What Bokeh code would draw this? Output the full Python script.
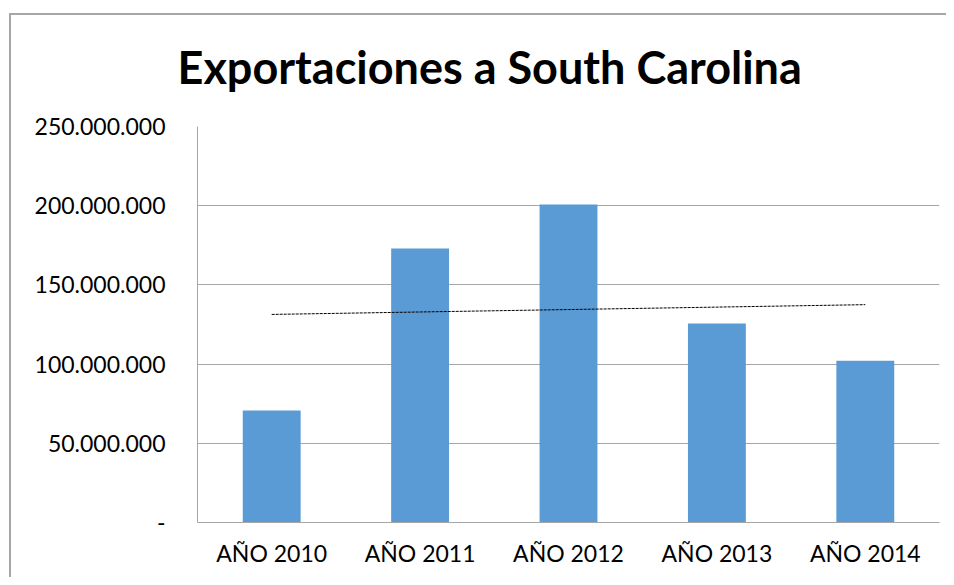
import numpy as np
from bokeh.plotting import figure
from bokeh.models import FixedTicker, FactorRange, Range1d
from bokeh.embed import file_html
from bokeh.resources import INLINE

title_text = "Exportaciones a South Carolina"
categories = ["AÑO 2010", "AÑO 2011", "AÑO 2012", "AÑO 2013", "AÑO 2014"]
exports = [70700000, 173000000, 200800000, 125600000, 102100000]
y_ticks = [0, 50000000, 100000000, 150000000, 200000000, 250000000]
y_tick_labels = ["-", "50.000.000", "100.000.000", "150.000.000", "200.000.000", "250.000.000"]

# linear trend line computed from the series
xs = np.arange(1, len(exports) + 1)
slope, intercept = np.polyfit(xs, exports, 1)
trend = list(slope * xs + intercept)

FONT = "Lato"
GRID = "#a6a6a6"

p = figure(
    x_range=FactorRange(*categories, range_padding=0),
    y_range=Range1d(0, 250000000),
    width=946, height=577,
    output_backend="svg", toolbar_location=None,
    min_border_left=197, min_border_right=7, min_border_top=126, min_border_bottom=55,
)
# outer chart-area border (top and left edges only visible in the window)
p.styles = {
    "overflow": "hidden",
    "background": ("linear-gradient(#a6a6a6,#a6a6a6) 9px 13px / 100% 2px no-repeat, "
                   "linear-gradient(#a6a6a6,#a6a6a6) 9px 13px / 2px 100% no-repeat, white"),
}
p.outline_line_color = None
p.background_fill_color = "white"
p.border_fill_alpha = 0

p.title.text = title_text
p.title.align = "left"
p.title.offset = -20
p.title.text_font = FONT
p.title.text_font_style = "bold"
p.title.text_font_size = "45px"
p.title.text_color = "black"
p.title.standoff = 66

p.vbar(x=categories, top=exports, width=0.39, color="#5b9bd5", line_color=None)
p.line(x=categories, y=trend, line_color="black", line_width=1, line_dash="3 1")

p.yaxis.ticker = FixedTicker(ticks=y_ticks)
p.yaxis.major_label_overrides = {t: l for t, l in zip(y_ticks, y_tick_labels)}
p.yaxis.major_tick_line_color = None
p.yaxis.minor_tick_line_color = None
p.yaxis.axis_line_color = GRID
p.yaxis.major_label_standoff = 26
p.yaxis.major_label_text_font = FONT
p.yaxis.major_label_text_font_size = "23px"
p.yaxis.major_label_text_color = "black"

p.xaxis.major_tick_line_color = None
p.xaxis.axis_line_color = GRID
p.xaxis.major_label_standoff = 10
p.xaxis.major_label_text_font = FONT
p.xaxis.major_label_text_font_size = "23px"
p.xaxis.major_label_text_color = "black"

p.xgrid.grid_line_color = None
p.ygrid.grid_line_color = GRID
p.ygrid.grid_line_width = 1

open("out.html", "w").write(file_html(p, INLINE))
